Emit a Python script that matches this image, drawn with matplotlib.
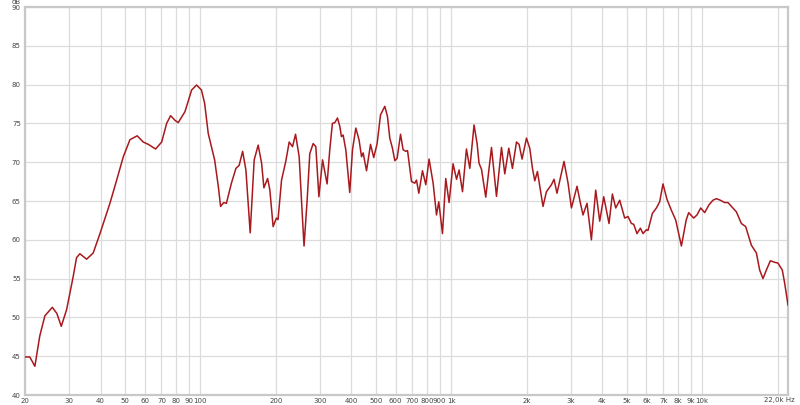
"""
频率响应曲线 (20 Hz - 22 kHz)
"""

import matplotlib
matplotlib.use("Agg")
import matplotlib.pyplot as plt
from matplotlib.ticker import FixedLocator, NullLocator

# 频率 (Hz) 与声压级 (dB)
freq_hz = [
    20.0, 20.9, 21.9, 22.9, 24.0, 25.7, 26.8, 27.9, 29.3, 31.1,
    32.1, 33.1, 35.2, 37.4, 39.8, 43.6, 46.4, 49.3, 52.4, 56.0,
    59.2, 62.0, 66.3, 70.1, 73.4, 76.1, 79.2, 81.6, 86.8, 92.3,
    96.6, 101, 104, 107.5, 114, 118, 120.4, 124, 127, 133,
    138.6, 142.8, 147.4, 151.9, 158, 163.9, 170, 175.4, 179.2, 185.4,
    189.3, 195, 201, 204, 210.7, 219, 226, 233, 239.6, 247.7,
    253, 259, 266.5, 273, 281.6, 288.6, 296.8, 307, 320, 328,
    336, 343.6, 352, 359.8, 365, 370.8, 380, 394, 404, 416.6,
    429, 439, 445.6, 459.6, 476.8, 491, 506.6, 522.6, 543.6, 557,
    569, 583, 596, 608.6, 628, 643, 659, 669.6, 694.6, 716,
    727, 742.6, 768, 792, 816, 847, 873.6, 892, 923, 951,
    980.6, 1017, 1050, 1075, 1109, 1150, 1186, 1233, 1268, 1291,
    1320, 1373, 1447, 1515, 1586, 1635, 1696, 1754, 1820, 1864,
    1916, 1995, 2056, 2108, 2153, 2206, 2322, 2396, 2509, 2569,
    2640, 2816, 2922, 3014, 3173, 3274, 3352, 3478, 3620, 3766,
    3908, 4054, 4256, 4390, 4526, 4695, 4914, 5066, 5227, 5338,
    5502, 5677, 5814, 5998, 6086, 6336, 6574, 6776, 6984, 7246,
    7544, 7848, 8270, 8642, 8842, 9258, 9542, 9872, 10240, 10650,
    11050, 11400, 11826, 12300, 12680, 13276, 13700, 14340, 14916, 15720,
    16460, 16964, 17484, 18040, 18712, 19466, 20060, 20880, 21340, 22000,
]
level_db = [
    44.9, 44.9, 43.7, 47.6, 50.2, 51.3, 50.5, 48.85, 51.0, 55.2,
    57.7, 58.2, 57.5, 58.3, 60.8, 64.7, 67.7, 70.7, 72.9, 73.4,
    72.6, 72.3, 71.7, 72.6, 75.0, 76.0, 75.4, 75.1, 76.5, 79.3,
    79.95, 79.3, 77.6, 73.7, 70.3, 66.8, 64.3, 64.8, 64.7, 67.3,
    69.2, 69.6, 71.4, 69.0, 60.9, 70.3, 72.2, 69.9, 66.7, 67.9,
    66.4, 61.7, 62.8, 62.6, 67.7, 70.1, 72.6, 72.0, 73.6, 70.7,
    65.1, 59.2, 65.1, 71.1, 72.4, 72.0, 65.55, 70.3, 67.2, 71.6,
    75.0, 75.1, 75.7, 74.6, 73.3, 73.5, 71.6, 66.1, 71.6, 74.4,
    72.9, 70.7, 71.2, 68.9, 72.3, 70.6, 72.4, 76.1, 77.2, 75.9,
    73.1, 71.8, 70.2, 70.5, 73.6, 71.6, 71.4, 71.5, 67.5, 67.3,
    67.7, 66.0, 68.9, 67.1, 70.4, 67.3, 63.2, 64.9, 60.8, 67.9,
    64.8, 69.8, 67.8, 69.0, 66.2, 71.7, 69.2, 74.8, 72.4, 69.85,
    69.1, 65.5, 71.9, 65.6, 71.9, 68.5, 71.8, 69.2, 72.6, 72.3,
    70.4, 73.1, 71.8, 69.2, 67.6, 68.8, 64.3, 66.2, 67.1, 67.8,
    66.0, 70.1, 67.3, 64.1, 66.9, 64.7, 63.2, 64.7, 60.0, 66.4,
    62.4, 65.55, 62.1, 65.9, 64.1, 65.1, 62.8, 63.0, 62.1, 62.0,
    60.8, 61.5, 60.8, 61.3, 61.2, 63.4, 64.1, 64.9, 67.2, 65.2,
    63.8, 62.55, 59.2, 62.55, 63.5, 62.8, 63.2, 64.1, 63.5, 64.5,
    65.1, 65.3, 65.1, 64.8, 64.8, 64.1, 63.6, 62.1, 61.7, 59.3,
    58.3, 56.1, 55.0, 56.1, 57.3, 57.1, 57.0, 56.1, 54.4, 51.6,
]

# 坐标轴刻度
grid_freqs = [20, 30, 40, 50, 60, 70, 80, 90, 100, 200, 300, 400, 500, 600,
              700, 800, 900, 1000, 2000, 3000, 4000, 5000, 6000, 7000, 8000,
              9000, 10000, 20000]
label_freqs = [20, 30, 40, 50, 60, 70, 80, 90, 100, 200, 300, 400, 500, 600,
               700, 800, 900, 1000, 2000, 3000, 4000, 5000, 6000, 7000, 8000,
               9000, 10000]
freq_labels = ["20", "30", "40", "50", "60", "70", "80", "90", "100", "200",
               "300", "400", "500", "600", "700", "800", "900", "1k", "2k",
               "3k", "4k", "5k", "6k", "7k", "8k", "9k", "10k"]
end_label = "22,0k Hz"
db_ticks = [40, 45, 50, 55, 60, 65, 70, 75, 80, 85, 90]

fig = plt.figure(figsize=(8.0, 4.05), dpi=100)
ax = fig.add_axes([25 / 800, 10 / 405, 763 / 800, 388 / 405])

ax.set_xscale("log")
ax.set_xlim(20, 22000)
ax.set_ylim(40, 90)

# 网格
for f in grid_freqs:
    ax.axvline(f, color="#dcdcdc", lw=0.9, zorder=0)
for d in db_ticks:
    ax.axhline(d, color="#dcdcdc", lw=0.9, zorder=0)

ax.plot(freq_hz, level_db, color="#a8191e", lw=1.1, zorder=3)

ax.xaxis.set_major_locator(FixedLocator(label_freqs))
ax.xaxis.set_minor_locator(NullLocator())
ax.set_xticklabels(freq_labels)
ax.set_yticks(db_ticks)
ax.set_yticklabels([str(d) for d in db_ticks])
ax.tick_params(axis="both", length=0, labelsize=5, labelcolor="#444444")
ax.tick_params(axis="x", pad=2)
ax.tick_params(axis="y", pad=3)

for s in ax.spines.values():
    s.set_color("#c8c8c8")
    s.set_linewidth(1.6)

# 右端 "22,0k Hz" 标签 (靠右对齐以免超出画布)
ax.annotate(end_label, xy=(1.0, 0.0), xycoords="axes fraction",
            xytext=(7, -2), textcoords="offset pixels", ha="right", va="top",
            fontsize=5, color="#444444")

ax.text(-0.006, 1.012, "dB", transform=ax.transAxes, ha="right", va="center",
        fontsize=5, color="#444444")

fig.savefig("out.png", dpi=100, facecolor="white")
